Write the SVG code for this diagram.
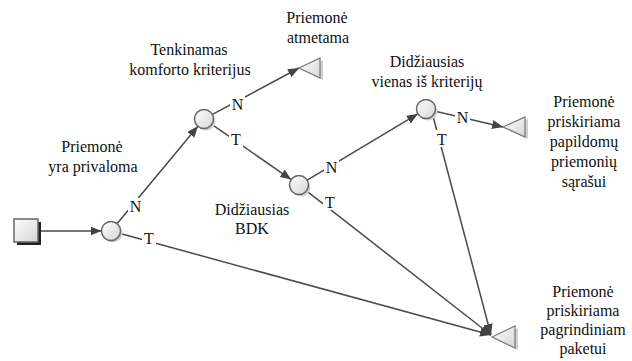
<svg xmlns="http://www.w3.org/2000/svg" width="632" height="361" viewBox="0 0 632 361" font-family="Liberation Serif, DejaVu Serif, serif">
<defs>
<linearGradient id="g" x1="0" y1="0" x2="1" y2="1"><stop offset="0" stop-color="#ffffff"/><stop offset="1" stop-color="#d4d4d4"/></linearGradient>
<marker id="a" markerUnits="userSpaceOnUse" markerWidth="12" markerHeight="10" refX="11" refY="4.5" orient="auto"><path d="M0,0 L11,4.5 L0,9 z" fill="#444"/></marker>
</defs>
<style>
text{font-family:'Liberation Serif','DejaVu Serif',serif;font-size:16px;fill:#111;text-anchor:middle}
.c{fill:url(#g);stroke:#666;stroke-width:1.5}
.sh{fill:#d0d0d0}
.t{fill:url(#g);stroke:#777;stroke-width:1.2}
.e{fill:none;stroke:#4a4a4a;stroke-width:1.5;marker-end:url(#a)}
.bg{fill:#fff}
</style>
<g id="connectors">
<line class="e" x1="39" y1="231" x2="101.5" y2="231"/>
<line class="e" x1="117" y1="223.7" x2="197.9" y2="126.3"/>
<line class="e" x1="212" y1="114.7" x2="299" y2="68"/>
<line class="e" x1="211.8" y1="124.4" x2="291.2" y2="179.6"/>
<line class="e" x1="307.2" y1="180.1" x2="417.8" y2="113.9"/>
<line class="e" x1="435.3" y1="111.2" x2="503" y2="127"/>
<line class="e" x1="433" y1="116" x2="491" y2="335"/>
<line class="e" x1="306.5" y1="190.9" x2="491" y2="335"/>
<line class="e" x1="120.2" y1="233.5" x2="491" y2="335"/>
<rect class="bg" x="128" y="198" width="15" height="16"/>
<rect class="bg" x="142" y="231" width="14" height="15"/>
<rect class="bg" x="230" y="96" width="15" height="16"/>
<rect class="bg" x="229" y="131" width="14" height="16"/>
<rect class="bg" x="324" y="160" width="15" height="15"/>
<rect class="bg" x="323" y="194" width="14" height="16"/>
<rect class="bg" x="455" y="109" width="15" height="16"/>
<rect class="bg" x="435" y="130" width="14" height="17"/>
<text x="135.5" y="212">N</text>
<text x="149" y="244">T</text>
<text x="237.5" y="110">N</text>
<text x="236" y="145">T</text>
<text x="331.5" y="173">N</text>
<text x="330" y="208">T</text>
<text x="462.5" y="123">N</text>
<text x="442" y="145">T</text>
</g>
<g id="start">
<rect x="17" y="222" width="24" height="23" fill="#222"/>
<rect x="14" y="219" width="24" height="23" fill="url(#g)" stroke="#666" stroke-width="1.5"/>
</g>
<g id="d1">
<circle class="sh" cx="113" cy="233" r="9.5"/>
<circle class="c" cx="111" cy="231" r="9.5"/>
<text x="92" y="152">Priemonė</text>
<text x="93" y="172">yra privaloma</text>
</g>
<g id="d2">
<circle class="sh" cx="206" cy="121" r="9.5"/>
<circle class="c" cx="204" cy="119" r="9.5"/>
<text x="189" y="55">Tenkinamas</text>
<text x="190" y="75">komforto kriterijus</text>
</g>
<g id="d3">
<circle class="sh" cx="301" cy="187" r="9.5"/>
<circle class="c" cx="299" cy="185" r="9.5"/>
<text x="252" y="215">Didžiausias</text>
<text x="252" y="234">BDK</text>
</g>
<g id="d4">
<circle class="sh" cx="428" cy="111" r="9.5"/>
<circle class="c" cx="426" cy="109" r="9.5"/>
<text x="427" y="67">Didžiausias</text>
<text x="427" y="87">vienas iš kriterijų</text>
</g>
<g id="r1">
<polygon class="sh" points="302,70 323,60 323,80"/>
<polygon class="t" points="299,68 320,58 320,78"/>
<text x="317" y="23">Priemonė</text>
<text x="318" y="43">atmetama</text>
</g>
<g id="r2">
<polygon class="sh" points="506,129 528,119 528,139"/>
<polygon class="t" points="503,127 525,117 525,137"/>
<text x="584" y="107">Priemonė</text>
<text x="584" y="127">priskiriama</text>
<text x="584" y="147">papildomų</text>
<text x="584" y="167">priemonių</text>
<text x="584" y="187">sąrašui</text>
</g>
<g id="r3">
<polygon class="sh" points="495,339 518,328 518,350"/>
<polygon class="t" points="492,337 515,326 515,348"/>
<text x="583" y="297">Priemonė</text>
<text x="583" y="316">priskiriama</text>
<text x="583" y="335">pagrindiniam</text>
<text x="583" y="354">paketui</text>
</g>
</svg>
